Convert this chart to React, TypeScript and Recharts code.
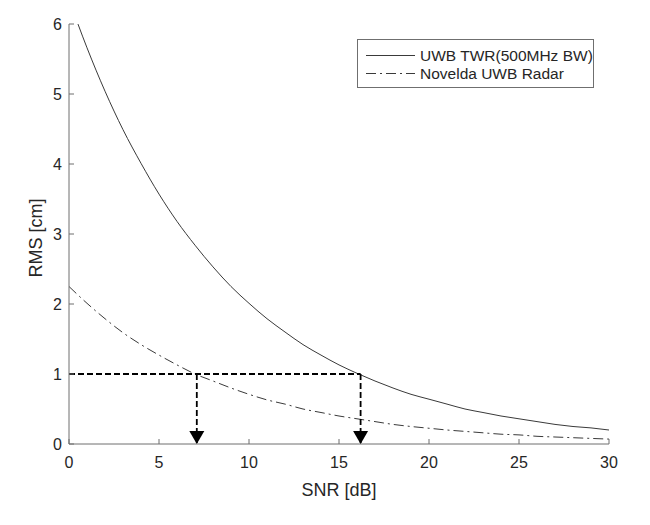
import { LineChart, Line, XAxis, YAxis, ReferenceLine, ReferenceDot, Legend } from 'recharts';

// RMS ranging error versus SNR, one point per dB
const snrDb = [0, 1, 2, 3, 4, 5, 6, 7, 8, 9, 10, 11, 12, 13, 14, 15, 16, 17, 18, 19, 20, 21, 22, 23, 24, 25, 26, 27, 28, 29, 30];
const twrRms = [6.35, 5.66, 5.04, 4.49, 4.01, 3.57, 3.18, 2.84, 2.53, 2.25, 2.01, 1.79, 1.6, 1.42, 1.27, 1.13, 1.01, 0.9, 0.8, 0.71, 0.64, 0.57, 0.5, 0.45, 0.4, 0.36, 0.32, 0.28, 0.25, 0.23, 0.2];
const noveldaRms = [2.25, 2.01, 1.79, 1.59, 1.42, 1.27, 1.13, 1.0, 0.9, 0.8, 0.71, 0.63, 0.57, 0.5, 0.45, 0.4, 0.36, 0.32, 0.28, 0.25, 0.225, 0.2, 0.18, 0.16, 0.14, 0.13, 0.11, 0.1, 0.09, 0.08, 0.07];

const xTicks = [0, 5, 10, 15, 20, 25, 30];
const yTicks = [0, 1, 2, 3, 4, 5, 6];

// 1 cm target and the SNR where each curve reaches it
const rmsTarget = 1;
const targetSnr = [7.1, 16.2];

const seriesInfo = [
  { key: 'twr', name: 'UWB TWR(500MHz BW)', dash: undefined as string | undefined },
  { key: 'novelda', name: 'Novelda UWB Radar', dash: '10 4 2 4' },
];

const data = snrDb.map((snr, i) => ({ snr, twr: twrRms[i], novelda: noveldaRms[i] }));

const FONT = '"Liberation Sans", Arial, Helvetica, sans-serif';
const AXIS = '#6f6f6f';
const TEXT = '#262626';
const CURVE = '#3a3a3a';

const tickStyle = { fontSize: 16, fill: TEXT, fontFamily: FONT };

const Arrow = ({ cx, cy }: any) => (
  <path d={`M${cx - 7.5},${cy - 13} L${cx + 7.5},${cy - 13} L${cx},${cy} Z`} fill="#000" />
);

const LegendBox = () => (
  <svg width={237} height={49} style={{ display: 'block' }}>
    <rect x={0.5} y={0.5} width={236} height={48} fill="#fff" stroke={AXIS} strokeWidth={1} />
    {seriesInfo.map((s, i) => (
      <g key={s.key}>
        <line x1={9} x2={58} y1={16.5 + i * 18} y2={16.5 + i * 18} stroke={CURVE} strokeWidth={1} strokeDasharray={s.dash} />
        <text x={63} y={16.5 + i * 18} dy="0.35em" fontSize={15.5} fill={TEXT} fontFamily={FONT}>
          {s.name}
        </text>
      </g>
    ))}
  </svg>
);

export default function App() {
  return (
    <div style={{ position: 'absolute', left: 0, top: 0, background: '#fff' }}>
      <LineChart width={650} height={525} data={data} margin={{ top: 24, right: 41, bottom: 31, left: 29 }}>
        <XAxis
          dataKey="snr"
          type="number"
          domain={[0, 30]}
          ticks={xTicks}
          height={50}
          tickSize={-5}
          tickMargin={18}
          tick={tickStyle}
          stroke={AXIS}
          label={{ value: 'SNR [dB]', position: 'insideBottom', offset: -2, fontSize: 18, fill: TEXT, fontFamily: FONT }}
        />
        <XAxis
          xAxisId="top"
          orientation="top"
          dataKey="snr"
          type="number"
          domain={[0, 30]}
          ticks={xTicks}
          height={0}
          tickSize={-5}
          tickFormatter={() => ''}
          stroke={AXIS}
        />
        <YAxis
          type="number"
          domain={[0, 6]}
          ticks={yTicks}
          allowDataOverflow
          width={40}
          tickSize={-5}
          tickMargin={12}
          tick={tickStyle}
          stroke={AXIS}
          label={{
            content: ({ viewBox }: any) => {
              const x = viewBox.x + 13;
              const y = viewBox.y + viewBox.height / 2 + 4;
              return (
                <text x={x} y={y} transform={`rotate(-90 ${x} ${y})`} textAnchor="middle" fontSize={18} fill={TEXT} fontFamily={FONT}>
                  RMS [cm]
                </text>
              );
            },
          }}
        />
        <YAxis
          yAxisId="right"
          orientation="right"
          type="number"
          domain={[0, 6]}
          ticks={yTicks}
          width={0}
          tickSize={-5}
          tickFormatter={() => ''}
          stroke={AXIS}
        />
        <Legend
          layout="horizontal"
          verticalAlign="middle"
          align="center"
          wrapperStyle={{ left: 357, top: 39, width: 237, height: 49 }}
          content={() => <LegendBox />}
        />
        <Line dataKey="twr" name={seriesInfo[0].name} type="monotone" stroke={CURVE} strokeWidth={1} dot={false} isAnimationActive={false} />
        <Line dataKey="novelda" name={seriesInfo[1].name} type="monotone" stroke={CURVE} strokeWidth={1} strokeDasharray={seriesInfo[1].dash} dot={false} isAnimationActive={false} />
        <ReferenceLine
          segment={[{ x: 0, y: rmsTarget }, { x: targetSnr[1], y: rmsTarget }]}
          stroke="#000"
          strokeWidth={1.8}
          strokeDasharray="6 3"
        />
        {targetSnr.map((snr) => (
          <ReferenceLine
            key={`v-${snr}`}
            segment={[{ x: snr, y: rmsTarget }, { x: snr, y: 0 }]}
            stroke="#000"
            strokeWidth={1.8}
            strokeDasharray="6 3"
          />
        ))}
        {targetSnr.map((snr) => (
          <ReferenceDot key={`a-${snr}`} x={snr} y={0} r={7} shape={Arrow} />
        ))}
      </LineChart>
    </div>
  );
}
